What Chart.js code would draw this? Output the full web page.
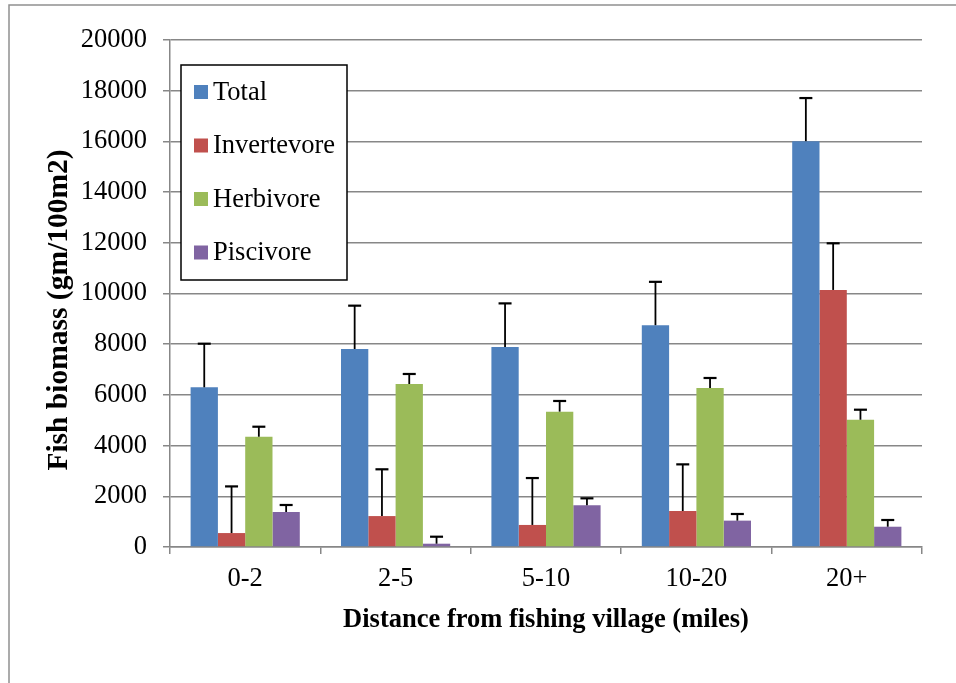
<!DOCTYPE html>
<html>
<head>
<meta charset="utf-8">
<title>Fish biomass</title>
<script src="https://cdn.jsdelivr.net/npm/chart.js@4.4.1/dist/chart.umd.min.js"></script>
<style>
    body { margin: 0; background: #fff; }
    canvas { display: block; }
</style>
</head>
<body>
<canvas id="myChart" width="956" height="683"></canvas>
<script>
// datos
const distancias = ['0-2', '2-5', '5-10', '10-20', '20+'];

const total = [6300, 7810, 7890, 8750, 16010];
const invertevore = [550, 1220, 870, 1420, 10140];
const herbivore = [4350, 6430, 5340, 6270, 5020];
const piscivore = [1380, 130, 1645, 1040, 800];

// barras de error (solo hacia arriba)
const errTotal = [1720, 1710, 1720, 1710, 1700];
const errInvertevore = [1840, 1845, 1850, 1840, 1840];
const errHerbivore = [395, 395, 420, 397, 396];
const errPiscivore = [277, 276, 275, 262, 265];

const ejeY = [0, 20000, 2000];

const fuente = 'Liberation Serif, Times New Roman, serif';
const gris = '#878787';

// fondo y marco
const marco = {
    id: 'marco',
    beforeDraw(chart) {
        const ctx = chart.ctx;
        ctx.save();
        ctx.fillStyle = '#fff';
        ctx.fillRect(0, 0, chart.width, chart.height);
        ctx.strokeStyle = '#909090';
        ctx.lineWidth = 1.5;
        ctx.strokeRect(9, 5, chart.width + 20, chart.height + 20);
        ctx.restore();
    }
};

const barrasError = {
    id: 'barrasError',
    afterDatasetsDraw(chart) {
        const ctx = chart.ctx;
        const y = chart.scales.y;
        ctx.save();
        ctx.strokeStyle = '#000';
        chart.data.datasets.forEach(function (ds, i) {
            const meta = chart.getDatasetMeta(i);
            meta.data.forEach(function (bar, j) {
                const tope = y.getPixelForValue(ds.data[j] + ds.errores[j]);
                ctx.lineWidth = 1.8;
                ctx.beginPath();
                ctx.moveTo(bar.x, bar.y);
                ctx.lineTo(bar.x, tope);
                ctx.stroke();
                ctx.lineWidth = 2.2;
                ctx.beginPath();
                ctx.moveTo(bar.x - 6.5, tope);
                ctx.lineTo(bar.x + 6.5, tope);
                ctx.stroke();
            });
        });
        ctx.restore();
    }
};

// titulo del eje y y leyenda con recuadro
const extras = {
    id: 'extras',
    afterDraw(chart) {
        const ctx = chart.ctx;
        const area = chart.chartArea;
        ctx.save();

        ctx.translate(59, 310);
        ctx.rotate(-Math.PI / 2);
        ctx.font = 'bold 29.5px ' + fuente;
        ctx.fillStyle = '#000';
        ctx.textAlign = 'center';
        ctx.textBaseline = 'middle';
        ctx.fillText('Fish biomass (gm/100m2)', 0, 0);
        ctx.setTransform(1, 0, 0, 1, 0, 0);

        const lx = area.left + 11;
        const ly = area.top + 25;
        ctx.fillStyle = '#fff';
        ctx.fillRect(lx, ly, 166, 215);
        ctx.strokeStyle = '#000';
        ctx.lineWidth = 1.5;
        ctx.strokeRect(lx, ly, 166, 215);

        ctx.font = '26.5px ' + fuente;
        ctx.textAlign = 'left';
        ctx.textBaseline = 'middle';
        chart.data.datasets.forEach(function (ds, i) {
            const cy = ly + 27 + i * 53.5;
            ctx.fillStyle = ds.backgroundColor;
            ctx.fillRect(lx + 13, cy - 7, 14, 14);
            ctx.fillStyle = '#000';
            ctx.fillText(ds.label, lx + 32, cy + 1);
        });
        ctx.restore();
    }
};

let myChart;

function generarGrafica() {
    const ctx = document.getElementById('myChart').getContext('2d');
    if (myChart) {
        myChart.destroy();
    }

    myChart = new Chart(ctx, {
        type: 'bar',
        data: {
            labels: distancias,
            datasets: [{
                label: 'Total',
                data: total,
                errores: errTotal,
                backgroundColor: '#4f81bd'
            }, {
                label: 'Invertevore',
                data: invertevore,
                errores: errInvertevore,
                backgroundColor: '#c0504d'
            }, {
                label: 'Herbivore',
                data: herbivore,
                errores: errHerbivore,
                backgroundColor: '#9bbb59'
            }, {
                label: 'Piscivore',
                data: piscivore,
                errores: errPiscivore,
                backgroundColor: '#8064a2'
            }]
        },
        options: {
            responsive: false,
            animation: false,
            categoryPercentage: 0.726,
            barPercentage: 1,
            layout: {
                padding: { top: 40, right: 34, bottom: 0, left: 0 }
            },
            plugins: {
                legend: { display: false },
                tooltip: { enabled: false }
            },
            scales: {
                x: {
                    afterFit: function (scale) { scale.height = 136; },
                    grid: {
                        display: true,
                        drawOnChartArea: false,
                        drawTicks: true,
                        tickLength: 7,
                        color: gris,
                        lineWidth: 1.5,
                        offset: true
                    },
                    border: { display: true, color: gris, width: 1.5 },
                    ticks: {
                        color: '#000',
                        padding: 9,
                        font: { family: fuente, size: 26.5 }
                    },
                    title: {
                        display: true,
                        text: 'Distance from fishing village (miles)',
                        color: '#000',
                        padding: { top: 0, bottom: 47 },
                        font: { family: fuente, size: 26.5, weight: 'bold' }
                    }
                },
                y: {
                    afterFit: function (scale) { scale.width = 170; },
                    min: ejeY[0],
                    max: ejeY[1],
                    grid: {
                        color: gris,
                        lineWidth: 1.5,
                        drawTicks: true,
                        tickLength: 7
                    },
                    border: { display: true, color: gris, width: 1.5 },
                    ticks: {
                        stepSize: ejeY[2],
                        color: '#000',
                        padding: 16,
                        font: { family: fuente, size: 26.5 },
                        callback: function (valor) { return String(valor); }
                    }
                }
            }
        },
        plugins: [marco, barrasError, extras]
    });
}

generarGrafica();
</script>
</body>
</html>
